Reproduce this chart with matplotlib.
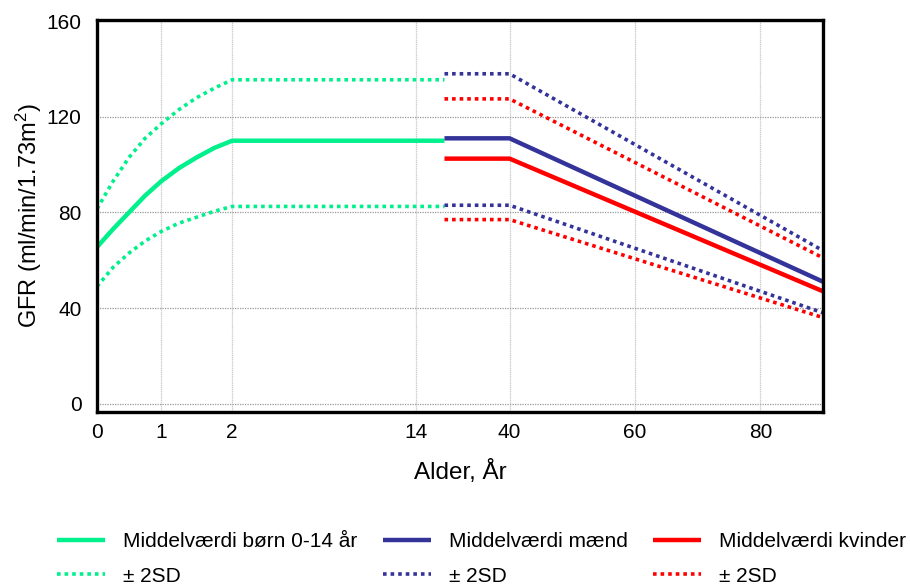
import matplotlib
matplotlib.use("Agg")
import matplotlib.pyplot as plt
import numpy as np

plt.rcParams['font.family'] = ['Liberation Sans', 'DejaVu Sans']
plt.rcParams['mathtext.default'] = 'regular'

# alder-akse: ikke-lineaer, knaekpunkter (alder -> position)
akse_alder = [0, 1, 2, 14, 18, 40, 90]
akse_pos = [0, 64, 135, 319, 347, 412, 725]

# boern 0-2 aar + flad del
alder_b = [0, 0.25, 0.5, 0.75, 1, 1.25, 1.5, 1.75, 2, 18]
boern = [65.5, 73, 80, 87, 93, 98.5, 103, 107, 110, 110]
boern_op = [81.5, 93, 103, 111, 117, 123, 128, 132, 135.5, 135.5]
boern_ned = [49, 57, 63, 68, 72, 75.5, 78, 80.5, 82.5, 82.5]

# voksne
alder_v = [18, 40, 90]
maend = [111, 111, 51]
maend_op = [138, 138, 64]
maend_ned = [83, 83, 38]
kvinder = [102.5, 102.5, 47]
kvinder_op = [127.5, 127.5, 61]
kvinder_ned = [77, 77, 36]

x_ticks = [0, 1, 2, 14, 40, 60, 80]
y_ticks = [0, 40, 80, 120, 160]

gron = '#00f08c'
bla = '#33339a'
rod = '#ff0000'


def fwd(x):
    return np.interp(x, akse_alder, akse_pos)


def inv(p):
    return np.interp(p, akse_pos, akse_alder)


fig = plt.figure(figsize=(9.1, 5.87), dpi=100)
ax = fig.add_axes([97/910, 1-412/587, (823-97)/910, (412-20)/587])
ax.set_xscale('function', functions=(fwd, inv))

fuld = dict(lw=3.2, solid_capstyle='butt')
prik = dict(lw=2.6, linestyle=(0, (1, 1.1)))

ax.plot(alder_b, boern, color=gron, label='Middelværdi børn 0-14 år', **fuld)
ax.plot(alder_b, boern_op, color=gron, label='± 2SD', **prik)
ax.plot(alder_b, boern_ned, color=gron, **prik)

ax.plot(alder_v, maend, color=bla, label='Middelværdi mænd', **fuld)
ax.plot(alder_v, maend_op, color=bla, label='± 2SD', **prik)
ax.plot(alder_v, maend_ned, color=bla, **prik)

ax.plot(alder_v, kvinder, color=rod, label='Middelværdi kvinder', **fuld)
ax.plot(alder_v, kvinder_op, color=rod, label='± 2SD', **prik)
ax.plot(alder_v, kvinder_ned, color=rod, **prik)

ax.set_xlim(0, 90)
ax.set_ylim(-3.5, 160.5)
ax.set_xticks(x_ticks)
ax.set_yticks(y_ticks)
ax.tick_params(length=0, labelsize=15)
ax.tick_params(axis='x', pad=8)
ax.tick_params(axis='y', pad=11)
ax.xaxis.grid(True, color='#cccccc', lw=0.9, linestyle=(0, (1, 0.5)))
ax.yaxis.grid(True, color='#999999', lw=0.9, linestyle=(0, (1, 1)))
ax.set_axisbelow(True)
for s in ax.spines.values():
    s.set_linewidth(2.4)

ax.set_xlabel('Alder, År', fontsize=17.5, labelpad=13)
ax.set_ylabel('GFR (ml/min/1.73m$^{2}$)', fontsize=17, labelpad=2)

fig.legend(loc='upper left', bbox_to_anchor=(57/910, 1-532/587), ncol=3,
           frameon=False, fontsize=15, handlelength=2.3, handletextpad=0.85,
           columnspacing=1.25, labelspacing=0.75, borderaxespad=0, borderpad=0)

fig.savefig('out.png', dpi=100)
